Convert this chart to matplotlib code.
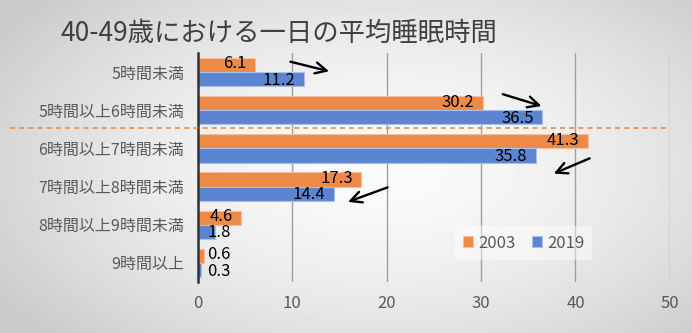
import numpy as np
import matplotlib
matplotlib.use("Agg")
import matplotlib.pyplot as plt
import matplotlib.transforms as mtransforms

plt.rcParams['font.family'] = ['Noto Sans CJK JP', 'DejaVu Sans']

# Data
categories = ['5時間未満', '5時間以上6時間未満', '6時間以上7時間未満',
              '7時間以上8時間未満', '8時間以上9時間未満', '9時間以上']
y2003 = [6.1, 30.2, 41.3, 17.3, 4.6, 0.6]
y2019 = [11.2, 36.5, 35.8, 14.4, 1.8, 0.3]
xticks = [0, 10, 20, 30, 40, 50]

# hand-drawn style arrows (tail -> head), data coords
arrows = [((9.8, -0.27), (13.9, -0.02)),
          ((32.3, 0.58), (36.4, 0.89)),
          ((41.5, 2.26), (37.7, 2.66)),
          ((20.1, 3.02), (15.9, 3.40))]

orange = '#ee8a47'
blue = '#5b85d1'

fig = plt.figure(figsize=(6.92, 3.33), dpi=100)

# radial gradient background
bg = fig.add_axes([0, 0, 1, 1], zorder=-10)
xx, yy = np.meshgrid(np.linspace(0, 1, 692), np.linspace(0, 1, 333))
r = np.sqrt(((xx - 0.55) / 0.65) ** 2 + ((yy - 0.5) / 0.75) ** 2)
shade = 0.985 - 0.19 * np.clip(r, 0, 1) ** 1.6
bg.imshow(shade, cmap='gray', vmin=0, vmax=1, extent=[0, 1, 0, 1], aspect='auto')
bg.axis('off')

ax = fig.add_axes([0.286, 0.153, 0.682, 0.688])
ax.set_facecolor('none')

pos = np.arange(len(categories))
h = 0.37
ax.barh(pos - h / 2, y2003, height=h, color=orange, edgecolor='#f6c09c', linewidth=0.8, label='2003', zorder=3)
ax.barh(pos + h / 2, y2019, height=h, color=blue, edgecolor='#a9c0ea', linewidth=0.8, label='2019', zorder=3)

# value labels
for vals, off in ((y2003, -h / 2 - 0.03), (y2019, h / 2 + 0.03)):
    for i, v in enumerate(vals):
        if v > 3:
            ax.text(v - 0.9, i + off, f'{v}', ha='right', va='center', fontsize=12, color='black', zorder=5)
        else:
            ax.text(1.0, i + off, f'{v}', ha='left', va='center', fontsize=12, color='black', zorder=5)

for (x0, y0), (x1, y1) in arrows:
    ax.annotate('', xy=(x1, y1), xytext=(x0, y0),
                arrowprops=dict(arrowstyle='->', color='black', lw=1.7, mutation_scale=20,
                                shrinkA=0, shrinkB=0), zorder=6)

ax.set_xlim(0, 50)
ax.set_ylim(len(categories) - 0.5, -0.5)
ax.set_xticks(xticks)
ax.set_yticks(pos)
ax.set_yticklabels(categories)
ax.tick_params(axis='both', length=0, colors='#595959')
ax.tick_params(axis='y', pad=10, labelsize=11.5)
ax.tick_params(axis='x', pad=9, labelsize=12)
ax.grid(axis='x', color='#a0a0a0', linewidth=1, zorder=0)
for s in ('top', 'right', 'bottom'):
    ax.spines[s].set_visible(False)
ax.spines['left'].set_color('#333333')
ax.spines['left'].set_linewidth(1.8)
ax.spines['left'].set_zorder(4)

# dashed separator line across the chart
trans = mtransforms.blended_transform_factory(fig.transFigure, ax.transData)
ax.plot([0.015, 0.965], [1.46, 1.46], transform=trans, color='#ee8a47',
        linestyle=(0, (3, 2.5)), linewidth=1.2, clip_on=False, zorder=6)

leg = ax.legend(loc='center', bbox_to_anchor=(0.69, 0.17), ncol=2, fontsize=12,
                handlelength=0.6, handleheight=0.6, handletextpad=0.3, columnspacing=1.0,
                frameon=True, fancybox=False, borderpad=0.5)
leg.get_frame().set_facecolor('white')
leg.get_frame().set_alpha(0.45)
leg.get_frame().set_edgecolor('none')
for t in leg.get_texts():
    t.set_color('#595959')

fig.text(0.087, 0.90, '40-49歳における一日の平均睡眠時間', fontsize=19, color='#404040',
         ha='left', va='center')

fig.savefig('out.png', dpi=100)
